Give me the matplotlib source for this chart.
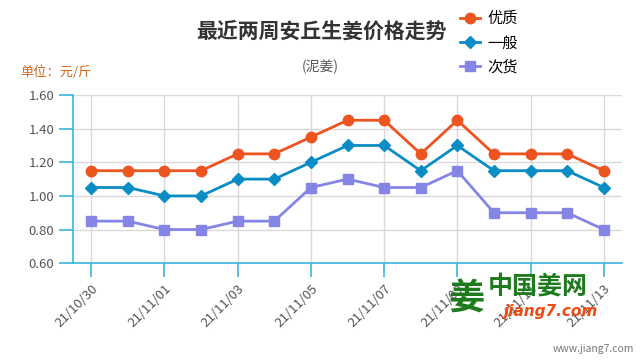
import matplotlib
matplotlib.use("Agg")
import matplotlib.pyplot as plt

plt.rcParams['font.family'] = ['Noto Sans CJK SC', 'DejaVu Sans']

# data
dates = ['21/10/30', '21/10/31', '21/11/01', '21/11/02', '21/11/03', '21/11/04',
         '21/11/05', '21/11/06', '21/11/07', '21/11/08', '21/11/09', '21/11/10',
         '21/11/11', '21/11/12', '21/11/13']
youzhi = [1.15, 1.15, 1.15, 1.15, 1.25, 1.25, 1.35, 1.45, 1.45, 1.25, 1.45, 1.25, 1.25, 1.25, 1.15]
yiban = [1.05, 1.05, 1.00, 1.00, 1.10, 1.10, 1.20, 1.30, 1.30, 1.15, 1.30, 1.15, 1.15, 1.15, 1.05]
cihuo = [0.85, 0.85, 0.80, 0.80, 0.85, 0.85, 1.05, 1.10, 1.05, 1.05, 1.15, 0.90, 0.90, 0.90, 0.80]
yticks = [0.60, 0.80, 1.00, 1.20, 1.40, 1.60]

axis_blue = '#3cb4dc'

fig = plt.figure(figsize=(6.4, 3.6), dpi=100)
ax = fig.add_axes([0.114, 0.269, 0.858, 0.467])

x = list(range(len(dates)))
ax.plot(x, youzhi, color='#ec5420', lw=2, marker='o', ms=7.5, label='优质', zorder=3)
ax.plot(x, yiban, color='#0a8cc4', lw=2, marker='D', ms=6, label='一般', zorder=3)
ax.plot(x, cihuo, color='#8585e6', lw=2, marker='s', ms=7.5, label='次货', zorder=3)

ax.set_xlim(-0.5, len(dates) - 0.5)
ax.set_ylim(0.6, 1.6)
ax.set_yticks(yticks)
ax.set_yticklabels([f'{v:.2f}' for v in yticks], fontsize=9.5, color='#555555')
ax.set_xticks(x[::2])
ax.set_xticklabels(dates[::2], rotation=45, ha='right', rotation_mode='anchor',
                   fontsize=9.5, color='#666666')

ax.grid(True, color='#d9d9d9', lw=1)
ax.set_axisbelow(True)
for s in ['top', 'right']:
    ax.spines[s].set_visible(False)
for s in ['left', 'bottom']:
    ax.spines[s].set_color(axis_blue)
    ax.spines[s].set_linewidth(1.2)
ax.tick_params(axis='both', colors=axis_blue, length=10, width=1.2)
ax.tick_params(axis='both', labelcolor='#555555')

fig.text(0.502, 0.913, '最近两周安丘生姜价格走势', ha='center', va='center',
         fontsize=15, fontweight='bold', color='#333333')
fig.text(0.5, 0.815, '(泥姜)', ha='center', va='center', fontsize=10, color='#555555')
fig.text(0.031, 0.80, '单位：元/斤', ha='left', va='center', fontsize=9.5, color='#d2691e')

fig.legend(loc='upper left', bbox_to_anchor=(0.698, 1.01), frameon=False,
           fontsize=11, handlelength=1.3, handletextpad=0.45, labelspacing=0.48)

# site watermark
fig.text(0.7, 0.17, '姜', fontsize=26, fontweight='bold', color='#1d7a1d', va='center')
fig.text(0.762, 0.205, '中国姜网', fontsize=18, fontweight='bold', color='#1d7a1d', va='center')
fig.text(0.788, 0.135, 'jiang7.com', fontsize=11, fontweight='bold', style='italic',
         color='#f04a10', va='center', family='DejaVu Sans')
fig.text(0.99, 0.03, 'www.jiang7.com', fontsize=7.5, color='#777777', ha='right', va='center')

fig.savefig('out.png', dpi=100)
